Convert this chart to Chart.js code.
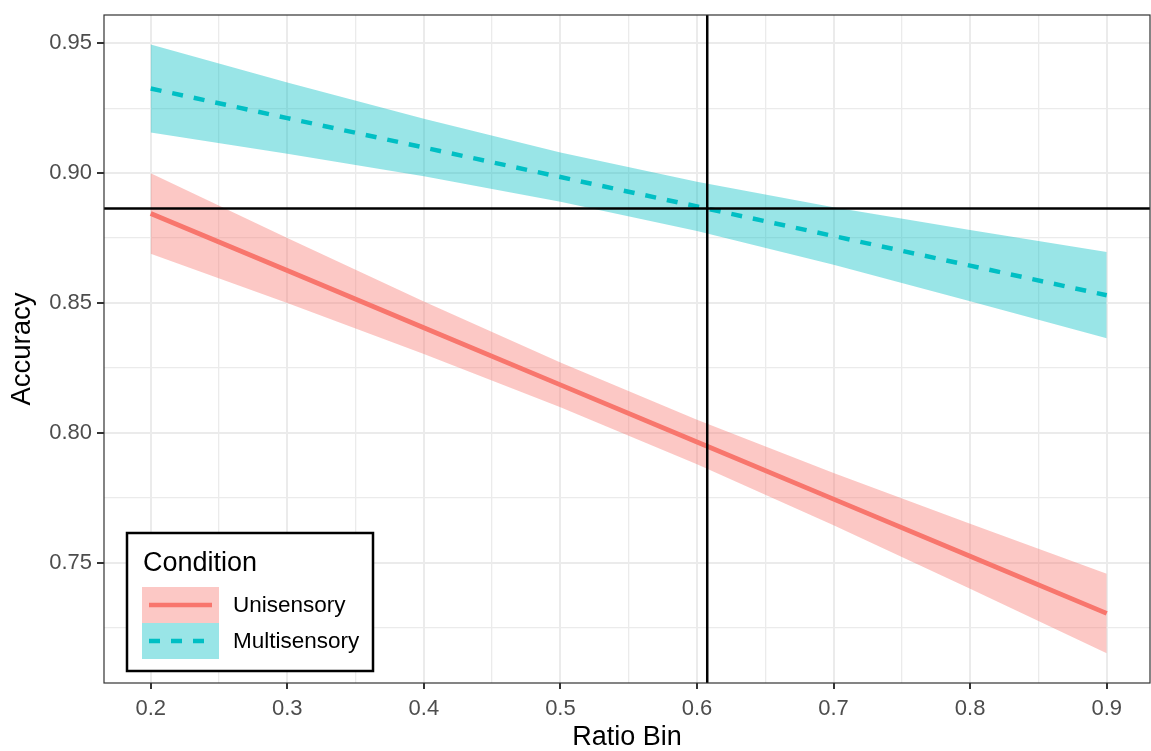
<!DOCTYPE html>
<html>
<head>
<meta charset="utf-8">
<script src="https://cdn.jsdelivr.net/npm/chart.js@4.4.1/dist/chart.umd.min.js"></script>
<style>
  html, body { margin: 0; padding: 0; background: #fff; }
  #myChart { display: block; }
</style>
</head>
<body>
<canvas id="myChart" width="1151" height="751"></canvas>
<script>
// ratio bins where the fitted lines / ribbons were read
var ratioBins = [0.2, 0.3, 0.4, 0.5, 0.6, 0.7, 0.8, 0.9];

// Unisensory fit and confidence band
var uniFit   = [0.8845, 0.8625, 0.8405, 0.8185, 0.7965, 0.7745, 0.7525, 0.7305];
var uniLower = [0.8690, 0.8500, 0.8304, 0.8099, 0.7879, 0.7644, 0.7400, 0.7152];
var uniUpper = [0.9000, 0.8750, 0.8506, 0.8271, 0.8051, 0.7846, 0.7650, 0.7458];

// Multisensory fit and confidence band
var multiFit   = [0.9326, 0.9212, 0.9099, 0.8985, 0.8872, 0.8758, 0.8644, 0.8530];
var multiLower = [0.9157, 0.9075, 0.8988, 0.8890, 0.8777, 0.8647, 0.8507, 0.8364];
var multiUpper = [0.9495, 0.9349, 0.9210, 0.9080, 0.8967, 0.8869, 0.8781, 0.8696];

// reference lines
var refAccuracy = 0.8864;
var refRatio = 0.6075;

// axes
var xRange = [0.1658, 0.9317];
var yRange = [0.7037, 0.9609];
var xMajorTicks = [0.2, 0.3, 0.4, 0.5, 0.6, 0.7, 0.8, 0.9];
var xMinorTicks = [0.25, 0.35, 0.45, 0.55, 0.65, 0.75, 0.85];
var yMajorTicks = [0.75, 0.80, 0.85, 0.90, 0.95];
var yMinorTicks = [0.725, 0.775, 0.825, 0.875, 0.925];

var UNI_COLOR = '#F8766D';
var MULTI_COLOR = '#00BFC4';
var UNI_FILL = 'rgba(248,118,109,0.4)';
var MULTI_FILL = 'rgba(0,191,196,0.4)';
var FONT = "'Liberation Sans', Arial, sans-serif";

function toPoints(xs, ys) {
    return xs.map(function (x, i) { return {x: x, y: ys[i]}; });
}

function isMajor(list, v) {
    return list.some(function (m) { return Math.abs(m - v) < 1e-6; });
}

function ribbon(label, data, fill, color) {
    return {
        label: label,
        data: data,
        borderWidth: 0,
        borderColor: 'rgba(0,0,0,0)',
        pointRadius: 0,
        fill: fill,
        backgroundColor: color,
        order: 10
    };
}

// panel border + legend inside the plot
var panelPlugin = {
    id: 'panelPlugin',
    afterDatasetsDraw: function (chart) {
        var ctx = chart.ctx;
        var a = chart.chartArea;
        ctx.save();
        ctx.strokeStyle = '#333333';
        ctx.lineWidth = 1.2;
        ctx.strokeRect(a.left, a.top, a.right - a.left, a.bottom - a.top);

        // legend box
        var bx = a.left + 23, by = a.bottom - 150, bw = 246, bh = 138;
        ctx.fillStyle = '#fff';
        ctx.fillRect(bx, by, bw, bh);
        ctx.strokeStyle = '#000';
        ctx.lineWidth = 2.5;
        ctx.strokeRect(bx, by, bw, bh);

        ctx.fillStyle = '#000';
        ctx.font = '27px ' + FONT;
        ctx.textBaseline = 'alphabetic';
        ctx.fillText('Condition', bx + 16, by + 38);

        var keys = [
            {label: 'Unisensory', fill: UNI_FILL, color: UNI_COLOR, dash: []},
            {label: 'Multisensory', fill: MULTI_FILL, color: MULTI_COLOR, dash: [11, 11]}
        ];
        keys.forEach(function (k, i) {
            var ky = by + 54 + i * 36;
            ctx.fillStyle = k.fill;
            ctx.fillRect(bx + 15, ky, 77, 36);
            ctx.strokeStyle = k.color;
            ctx.lineWidth = 4.5;
            ctx.setLineDash(k.dash);
            ctx.beginPath();
            ctx.moveTo(bx + 22, ky + 18);
            ctx.lineTo(bx + 85, ky + 18);
            ctx.stroke();
            ctx.setLineDash([]);
            ctx.fillStyle = '#000';
            ctx.font = '22.5px ' + FONT;
            ctx.textBaseline = 'middle';
            ctx.fillText(k.label, bx + 106, ky + 19);
        });
        ctx.restore();
    }
};

const ctx = document.getElementById('myChart');
var myChart = new Chart(ctx, {
    type: 'line',
    data: {
        datasets: [
            ribbon('uniLower', toPoints(ratioBins, uniLower), false, UNI_FILL),
            ribbon('uniUpper', toPoints(ratioBins, uniUpper), '-1', UNI_FILL),
            ribbon('multiLower', toPoints(ratioBins, multiLower), false, MULTI_FILL),
            ribbon('multiUpper', toPoints(ratioBins, multiUpper), '-1', MULTI_FILL),
            {
                label: 'Unisensory',
                data: toPoints(ratioBins, uniFit),
                borderColor: UNI_COLOR,
                borderWidth: 4.8,
                pointRadius: 0,
                fill: false,
                order: 5
            },
            {
                label: 'Multisensory',
                data: toPoints(ratioBins, multiFit),
                borderColor: MULTI_COLOR,
                borderWidth: 4.5,
                borderDash: [11, 11],
                pointRadius: 0,
                fill: false,
                order: 5
            },
            {
                label: 'refH',
                data: [{x: xRange[0], y: refAccuracy}, {x: xRange[1], y: refAccuracy}],
                borderColor: '#000',
                borderWidth: 2.5,
                pointRadius: 0,
                fill: false,
                order: 1
            },
            {
                label: 'refV',
                data: [{x: refRatio, y: yRange[0]}, {x: refRatio, y: yRange[1]}],
                borderColor: '#000',
                borderWidth: 2.5,
                pointRadius: 0,
                fill: false,
                order: 1
            }
        ]
    },
    options: {
        responsive: false,
        animation: false,
        layout: { padding: { top: 15, right: 1, left: 0, bottom: 0 } },
        plugins: {
            legend: { display: false },
            tooltip: { enabled: false }
        },
        scales: {
            x: {
                type: 'linear',
                min: xRange[0],
                max: xRange[1],
                afterBuildTicks: function (scale) {
                    scale.ticks = xMajorTicks.concat(xMinorTicks).sort().map(function (v) { return {value: v}; });
                },
                afterFit: function (scale) {
                    scale.height = 68;
                    scale.paddingLeft = 0;
                    scale.paddingRight = 0;
                },
                grid: {
                    color: '#EBEBEB',
                    lineWidth: function (c) { return isMajor(xMajorTicks, c.tick.value) ? 2 : 1.3; },
                    tickColor: function (c) { return isMajor(xMajorTicks, c.tick.value) ? '#333333' : 'rgba(0,0,0,0)'; },
                    tickLength: 6,
                    tickWidth: 2
                },
                border: { display: false },
                ticks: {
                    autoSkip: false,
                    maxRotation: 0,
                    padding: 7,
                    color: '#4D4D4D',
                    font: { family: FONT, size: 22 },
                    callback: function (v) { return isMajor(xMajorTicks, v) ? v.toFixed(1) : ''; }
                },
                title: {
                    display: true,
                    text: 'Ratio Bin',
                    color: '#000',
                    font: { family: FONT, size: 27, lineHeight: 1.0 },
                    padding: { top: 0, bottom: 0 }
                }
            },
            y: {
                type: 'linear',
                min: yRange[0],
                max: yRange[1],
                afterBuildTicks: function (scale) {
                    scale.ticks = yMajorTicks.concat(yMinorTicks).sort().map(function (v) { return {value: v}; });
                },
                afterFit: function (scale) {
                    scale.width = 104;
                    scale.paddingTop = 0;
                    scale.paddingBottom = 0;
                },
                grid: {
                    color: '#EBEBEB',
                    lineWidth: function (c) { return isMajor(yMajorTicks, c.tick.value) ? 2 : 1.3; },
                    tickColor: function (c) { return isMajor(yMajorTicks, c.tick.value) ? '#333333' : 'rgba(0,0,0,0)'; },
                    tickLength: 7,
                    tickWidth: 2
                },
                border: { display: false },
                ticks: {
                    autoSkip: false,
                    padding: 5,
                    color: '#4D4D4D',
                    font: { family: FONT, size: 22 },
                    callback: function (v) { return isMajor(yMajorTicks, v) ? v.toFixed(2) : ''; }
                },
                title: {
                    display: true,
                    text: 'Accuracy',
                    color: '#000',
                    font: { family: FONT, size: 27.5, lineHeight: 1.2 },
                    padding: { top: 6, bottom: 0 }
                }
            }
        }
    },
    plugins: [panelPlugin]
});
</script>
</body>
</html>
